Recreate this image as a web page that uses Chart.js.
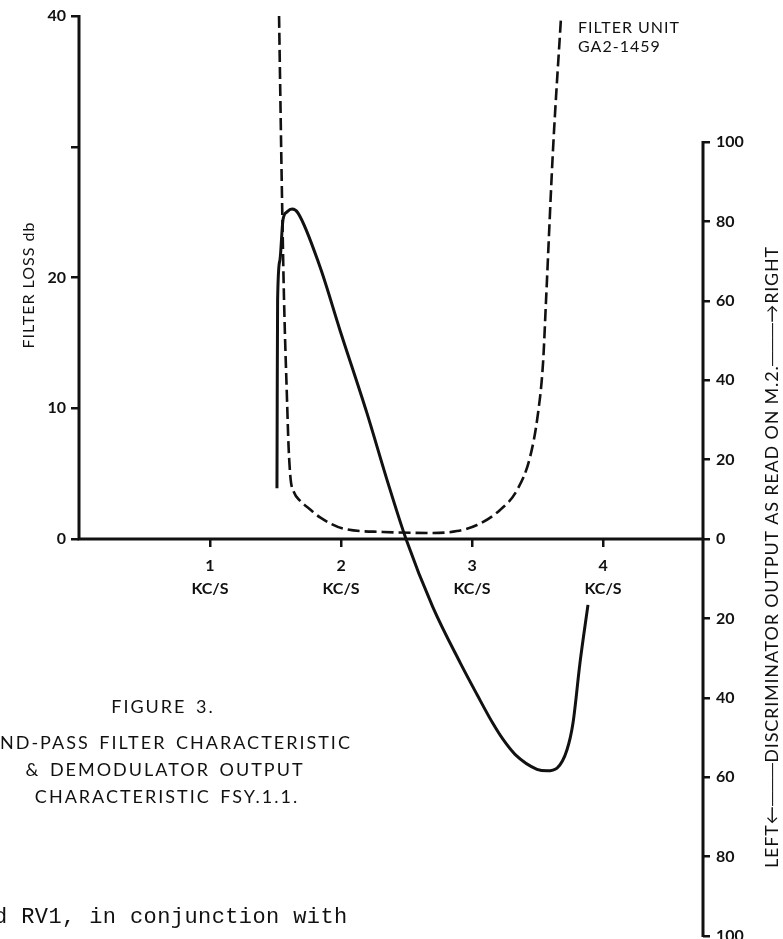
<!DOCTYPE html>
<html><head><meta charset="utf-8">
<script src="https://cdn.jsdelivr.net/npm/chart.js@4.4.1/dist/chart.umd.min.js"></script>
<style>html,body{margin:0;padding:0;background:#fff;}#wrap{position:relative;width:783px;height:939px;}</style>
</head><body><div id="wrap"><canvas id="c"></canvas></div>
<script>
// ---- data ----
const freqTicks = [1, 2, 3, 4];
const freqUnit = 'KC/S';
const lossTicks = [0, 10, 20, 30, 40];
const lossLabelled = [0, 10, 20, 40];
const outputTicks = [-100, -80, -60, -40, -20, 0, 20, 40, 60, 80, 100];

// dashed curve: filter unit loss (dB) vs frequency (kc/s)
const filterFreq = [1.527, 1.550, 1.565, 1.588, 1.600, 1.615, 1.640, 1.690, 1.760, 1.840, 2.015, 2.321, 2.702, 2.885, 3.038, 3.214, 3.344, 3.443, 3.504, 3.542, 3.565, 3.618, 3.679];
const filterLoss = [40, 25.9, 18.3, 10.6, 7.0, 4.6, 3.6, 2.9, 2.3, 1.65, 0.8, 0.54, 0.46, 0.61, 1.07, 2.22, 3.75, 6.27, 9.64, 13.46, 18.28, 29.75, 39.85];

// solid curve: discriminator output (+ right / - left) vs frequency
const discFreq = [1.511, 1.513, 1.516, 1.534, 1.557, 1.588, 1.626, 1.672, 1.840, 1.992, 2.198, 2.351, 2.496, 2.700, 2.910, 3.040, 3.160, 3.237, 3.330, 3.496, 3.573, 3.649, 3.725, 3.771, 3.824, 3.885];
const discOutput = [12.8, 35.0, 60.2, 70.3, 80.4, 82.4, 83.1, 82.1, 68.5, 52.6, 31.7, 14.9, 0, -17.1, -31.2, -39.3, -46.5, -50.5, -54.3, -58.0, -58.4, -57.7, -53.1, -46.3, -31.2, -16.6];

const filterLabel = ['FILTER UNIT', 'GA2-1459'];
const lossTitle = 'FILTER LOSS db';
const outputTitle = 'LEFT\u2190\u2500\u2500\u2500DISCRIMINATOR OUTPUT AS READ ON M.2.\u2500\u2500\u2500\u2192RIGHT';
const captionTitle = 'FIGURE 3.';
const captionLines = ['& DEMODULATOR OUTPUT', 'CHARACTERISTIC FSY.1.1.'];
const captionCut = 'ND-PASS FILTER CHARACTERISTIC';
const bodyText = 'd RV1, in conjunction with';

const INK = '#111111';
const FONT = 'Lato, "Open Sans", sans-serif';

const toPts = (xs, ys) => xs.map((v, i) => ({x: v, y: ys[i]}));

const decor = {
  id: 'decor',
  beforeDatasetsDraw(chart) {
    const {ctx, scales: {x, y, y2}} = chart;
    const x0 = x.getPixelForValue(x.min), x1 = x.getPixelForValue(x.max);
    const yz = y.getPixelForValue(0);
    ctx.save();
    ctx.strokeStyle = INK; ctx.lineWidth = 3; ctx.lineCap = 'butt';
    ctx.beginPath();
    ctx.moveTo(x0, y.getPixelForValue(lossTicks[lossTicks.length - 1]) - 1);
    ctx.lineTo(x0, yz);
    ctx.lineTo(x1, yz);
    ctx.moveTo(x1, y2.getPixelForValue(outputTicks[outputTicks.length - 1]) - 1);
    ctx.lineTo(x1, y2.getPixelForValue(outputTicks[0]) + 1);
    ctx.stroke();
    ctx.restore();
  },
  afterDraw(chart) {
    const {ctx} = chart;
    ctx.save();
    ctx.fillStyle = INK;
    ctx.textBaseline = 'middle';
    // left axis title
    ctx.font = '16px ' + FONT;
    ctx.letterSpacing = '1px';
    ctx.save(); ctx.translate(29, 285); ctx.rotate(-Math.PI / 2);
    ctx.textAlign = 'center'; ctx.fillText(lossTitle, 0, 0); ctx.restore();
    // filter label
    ctx.textAlign = 'left';
    ctx.fillText(filterLabel[0], 578, 28);
    ctx.fillText(filterLabel[1], 578, 47);
    // right axis title
    ctx.font = '18px ' + FONT;
    ctx.letterSpacing = '0.8px';
    ctx.save(); ctx.translate(772, 557); ctx.rotate(-Math.PI / 2);
    ctx.textAlign = 'center'; ctx.fillText(outputTitle, 0, 0); ctx.restore();
    // caption
    ctx.font = '18px ' + FONT;
    ctx.letterSpacing = '2px';
    ctx.wordSpacing = '3px';
    ctx.textAlign = 'center';
    ctx.fillText(captionTitle, 163, 707);
    ctx.fillText(captionLines[0], 165, 770);
    ctx.fillText(captionLines[1], 167, 797);
    ctx.textAlign = 'left';
    ctx.fillText(captionCut, 0, 743);
    // typed body text
    ctx.letterSpacing = '0.4px';
    ctx.wordSpacing = '0px';
    ctx.font = '22px "Liberation Mono", "Courier New", monospace';
    ctx.fillText(bodyText, -6, 917);
    ctx.restore();
  }
};

new Chart(document.getElementById('c'), {
  type: 'scatter',
  data: {
    datasets: [
      {label: 'Filter loss', data: toPts(filterFreq, filterLoss), yAxisID: 'y', showLine: true,
       borderColor: INK, borderWidth: 2.6, borderDash: [12, 5], pointRadius: 0,
       cubicInterpolationMode: 'monotone', fill: false},
      {label: 'Discriminator output', data: toPts(discFreq, discOutput), yAxisID: 'y2', showLine: true,
       borderColor: INK, borderWidth: 3, pointRadius: 0,
       cubicInterpolationMode: 'monotone', fill: false}
    ]
  },
  options: {
    responsive: true, maintainAspectRatio: false, animation: false,
    layout: {padding: {top: 16, bottom: 3, left: 0, right: 0}},
    plugins: {legend: {display: false}, tooltip: {enabled: false}, title: {display: false}},
    scales: {
      x: {
        type: 'linear', min: 0, max: 4.763, position: {y: 0},
        border: {display: false},
        grid: {display: true, drawOnChartArea: false, drawTicks: true, tickLength: 8, color: INK, lineWidth: 2.5},
        afterBuildTicks: s => { s.ticks = freqTicks.map(v => ({value: v})); },
        afterFit: s => { s.paddingLeft = 0; s.paddingRight = 0; },
        ticks: {color: INK, padding: 8, maxRotation: 0, autoSkip: false,
          font: {family: FONT, size: 16, weight: 'bold', lineHeight: 1.4},
          callback: v => [String(v), freqUnit]}
      },
      y: {
        type: 'linear', position: 'left', min: -30.36, max: 40,
        border: {display: false},
        grid: {display: true, drawOnChartArea: false, drawTicks: true, tickLength: 8, color: INK, lineWidth: 2.5},
        afterBuildTicks: s => { s.ticks = lossTicks.map(v => ({value: v})); },
        afterFit: s => { s.width = 79; s.paddingTop = 0; s.paddingBottom = 0; },
        ticks: {color: INK, padding: 5, autoSkip: false,
          font: {family: FONT, size: 16, weight: 'bold'},
          callback: v => lossLabelled.includes(v) ? String(v) : ''}
      },
      y2: {
        type: 'linear', position: 'right', min: -100, max: 131.74,
        border: {display: false},
        grid: {display: true, drawOnChartArea: false, drawTicks: true, tickLength: 7, color: INK, lineWidth: 2.5},
        afterBuildTicks: s => { s.ticks = outputTicks.map(v => ({value: v})); },
        afterFit: s => { s.width = 80; s.paddingTop = 0; s.paddingBottom = 0; },
        ticks: {color: INK, padding: 6, autoSkip: false,
          font: {family: FONT, size: 16, weight: 'bold'},
          callback: v => String(Math.abs(v))}
      }
    }
  },
  plugins: [decor]
});
</script></body></html>
